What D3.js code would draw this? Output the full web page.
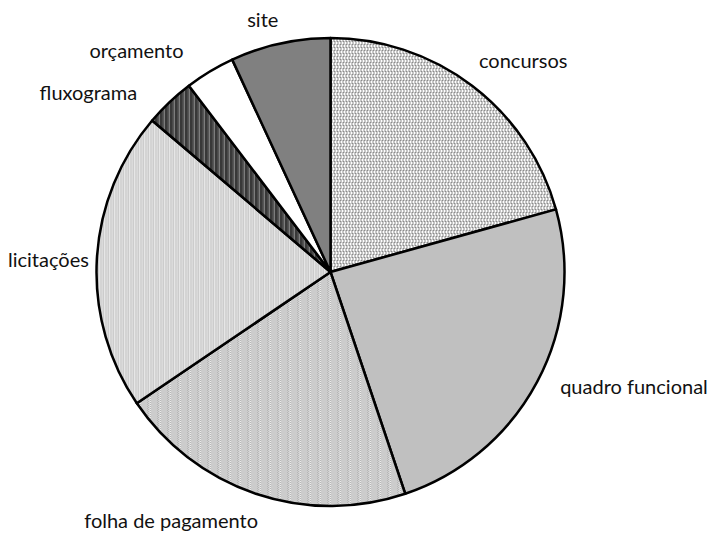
<!DOCTYPE html>
<html><head><meta charset="utf-8">
<script src="https://cdn.jsdelivr.net/npm/d3@7"></script>
<style>body{margin:0;background:#fff}</style></head>
<body><svg id="c" width="709" height="533"></svg>
<script>
// ---- data ----
const categories = ["concursos","quadro funcional","folha de pagamento","licitações","fluxograma","orçamento","site"];
const values = [6, 7, 6, 6, 1, 1, 2];

// ---- layout / style ----
const W = 709, H = 533, cx = 330.5, cy = 272, R = 234;
const svg = d3.select("#c");
const defs = svg.append("defs");

function pattern(id, w, h, bg, rects) {
  const p = defs.append("pattern").attr("id", id).attr("patternUnits", "userSpaceOnUse")
    .attr("width", w).attr("height", h);
  p.append("rect").attr("width", w).attr("height", h).attr("fill", bg);
  rects.forEach(r => p.append("rect").attr("x", r[0]).attr("y", r[1]).attr("width", r[2]).attr("height", r[3])
    .attr("fill", r[4]).attr("shape-rendering", "crispEdges"));
  return `url(#${id})`;
}
// concursos: staggered small vertical dashes
const pConc = pattern("pConc", 3, 6, "#ffffff", [
  [0,0,1,4,"#8a8a8a"],
  [1,3,1,3,"#8a8a8a"],[1,0,1,1,"#8a8a8a"]
]);
// folha: fine checker with lighter vertical bands
const pFolha = pattern("pFolha", 10, 2, "#ffffff", [
  [0,0,1,1,"#999"],[1,1,1,1,"#999"],[2,0,1,1,"#999"],[3,1,1,1,"#999"],
  [4,0,1,1,"#999"],[5,1,1,1,"#999"],[6,0,1,1,"#999"],[7,1,1,1,"#999"],
  [7,0,3,1,"#d4d4d4"],[8,1,2,1,"#d4d4d4"]
]);
// licitações: light vertical lines
const pLic = pattern("pLic", 5, 4, "#f4f4f4", [
  [0,0,1,4,"#b4b4b4"],[2,0,1,4,"#c0c0c0"],[3,0,1,4,"#d8d8d8"]
]);
// fluxograma: dark vertical stripes
const pFlux = pattern("pFlux", 5, 4, "#707070", [
  [0,0,1,4,"#000"],[2,0,1,4,"#222"],[3,0,1,4,"#8a8a8a"]
]);
const fills = [pConc, "#c0c0c0", pFolha, pLic, pFlux, "#ffffff", "#808080"];

const pie = d3.pie().sort(null).value(d => d)(values);
const arc = d3.arc().innerRadius(0).outerRadius(R);

const g = svg.append("g").attr("transform", `translate(${cx},${cy})`);
g.selectAll("path").data(pie).join("path")
  .attr("d", arc)
  .attr("fill", (d, i) => fills[i])
  .attr("stroke", "#000").attr("stroke-width", 2.5).attr("stroke-linejoin", "round");

// labels: placed outside the arc, box corner nearest centre touching a label circle
const labelR = 252;
const nudge = [[-4,-2],[7,-13],[8,0],[10,10],[-20,12],[-17,3],[2,2]];
const lg = svg.append("g").attr("font-family", "Lato, 'Open Sans', sans-serif").attr("font-size", 20).attr("fill", "#111");
pie.forEach((d, i) => {
  const a = (d.startAngle + d.endAngle) / 2;
  const px = cx + labelR * Math.sin(a), py = cy - labelR * Math.cos(a);
  const t = lg.append("text").text(categories[i]).attr("text-anchor", "middle").attr("dominant-baseline", "central");
  const w = t.node().getComputedTextLength(), h = 18;
  const sx = Math.sin(a) >= 0 ? 1 : -1, sy = Math.cos(a) >= 0 ? -1 : 1;
  t.attr("x", px + sx * w / 2 + nudge[i][0]).attr("y", py + sy * h / 2 + nudge[i][1]);
});
</script></body></html>
